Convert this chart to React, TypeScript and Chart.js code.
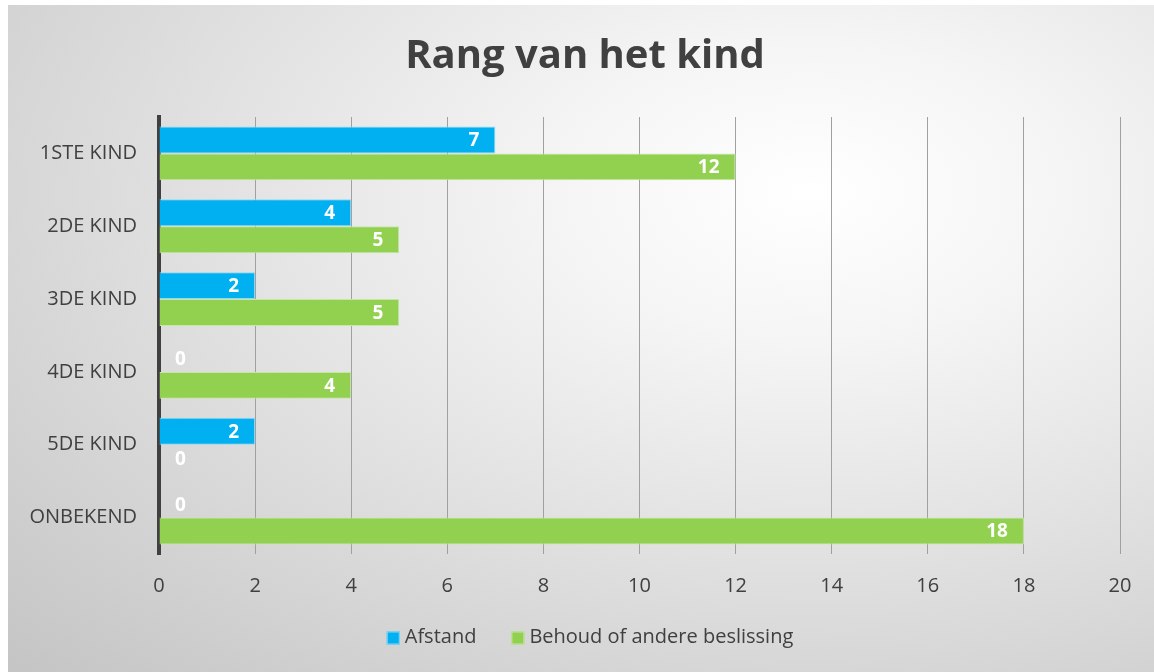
import React, { useEffect, useRef } from "react";
import { Chart, registerables } from "chart.js";

Chart.register(...registerables);

const categories = ["1STE KIND", "2DE KIND", "3DE KIND", "4DE KIND", "5DE KIND", "ONBEKEND"];
const afstand = [7, 4, 2, 0, 2, 0];
const behoud = [12, 5, 5, 4, 0, 18];
const seriesNames = ["Afstand", "Behoud of andere beslissing"];
const seriesColors = ["#00B0F0", "#92D050"];
const seriesBorders = ["#8fd8f5", "#c6e6a6"];
const titleText = "Rang van het kind";

const FONT = "'Open Sans', 'DejaVu Sans', sans-serif";

const dataLabels = {
  id: "dataLabels",
  afterDatasetsDraw(chart: any) {
    const ctx = chart.ctx;
    ctx.save();
    ctx.font = `bold 19px ${FONT}`;
    ctx.fillStyle = "#ffffff";
    ctx.textBaseline = "middle";
    chart.data.datasets.forEach((ds: any, di: number) => {
      const meta = chart.getDatasetMeta(di);
      meta.data.forEach((el: any, i: number) => {
        const v = ds.data[i];
        if (v > 0) {
          ctx.textAlign = "right";
          ctx.fillText(String(v), el.x - 16, el.y + 1);
        } else {
          ctx.textAlign = "left";
          ctx.fillText(String(v), el.base + 16, el.y + 1);
        }
      });
    });
    ctx.restore();
  },
};

const titleAndLegend = {
  id: "titleAndLegend",
  afterDraw(chart: any) {
    const ctx = chart.ctx;
    ctx.save();
    // title
    ctx.font = `bold 40px ${FONT}`;
    ctx.fillStyle = "#404040";
    ctx.textAlign = "center";
    ctx.textBaseline = "middle";
    ctx.fillText(titleText, 577, 52);
    // legend
    ctx.font = `20px ${FONT}`;
    const box = 13;
    const gap = 5;
    const sep = 35;
    const widths = seriesNames.map((n) => ctx.measureText(n).width);
    const total = widths.reduce((a, w) => a + box + gap + w, 0) + sep * (seriesNames.length - 1);
    let x = 582 - total / 2;
    const cy = 632;
    ctx.textAlign = "left";
    seriesNames.forEach((n, i) => {
      ctx.fillStyle = seriesColors[i];
      ctx.fillRect(x, cy - box / 2 + 1, box, box);
      ctx.strokeStyle = seriesBorders[i];
      ctx.lineWidth = 1;
      ctx.strokeRect(x + 0.5, cy - box / 2 + 1.5, box - 1, box - 1);
      ctx.fillStyle = "#404040";
      ctx.fillText(n, x + box + gap, cy);
      x += box + gap + widths[i] + sep;
    });
    ctx.restore();
  },
};

export default function App() {
  const ref = useRef<HTMLCanvasElement>(null);
  useEffect(() => {
    if (!ref.current) return;
    const chart = new Chart(ref.current, {
      type: "bar",
      data: {
        labels: categories,
        datasets: [
          {
            label: seriesNames[0],
            data: afstand,
            backgroundColor: seriesColors[0],
            borderColor: seriesBorders[0],
            borderWidth: 1,
            categoryPercentage: 0.74,
            barPercentage: 1,
          },
          {
            label: seriesNames[1],
            data: behoud,
            backgroundColor: seriesColors[1],
            borderColor: seriesBorders[1],
            borderWidth: 1,
            categoryPercentage: 0.74,
            barPercentage: 1,
          },
        ],
      },
      options: {
        indexAxis: "y",
        animation: false,
        responsive: false,
        maintainAspectRatio: false,
        layout: { padding: { left: 0, right: 34, top: 112, bottom: 74 } },
        scales: {
          x: {
            min: 0,
            max: 20,
            ticks: { stepSize: 2, color: "#404040", font: { family: FONT, size: 20 }, padding: 20 },
            grid: { color: "#a0a0a0", lineWidth: 1, drawTicks: false },
            border: { display: false },
            afterFit: (s: any) => {
              s.height = 44;
            },
          },
          y: {
            ticks: { color: "#404040", font: { family: FONT, size: 20 }, padding: 22 },
            grid: { display: false, drawTicks: false },
            border: { display: true, color: "#404040", width: 4 },
            afterFit: (s: any) => {
              s.width = 151;
            },
          },
        },
        plugins: {
          title: { display: false },
          legend: { display: false },
          tooltip: { enabled: false },
        },
      },
      plugins: [dataLabels, titleAndLegend],
    });
    return () => chart.destroy();
  }, []);

  return (
    <div
      style={{
        position: "absolute",
        left: 8,
        top: 5,
        width: 1146,
        height: 667,
        background:
          "radial-gradient(ellipse farthest-corner at 70% 28%, #ffffff 0%, #f5f5f5 22%, #c4c4c4 100%)",
      }}
    >
      <canvas ref={ref} width={1146} height={667} style={{ display: "block" }} />
    </div>
  );
}
